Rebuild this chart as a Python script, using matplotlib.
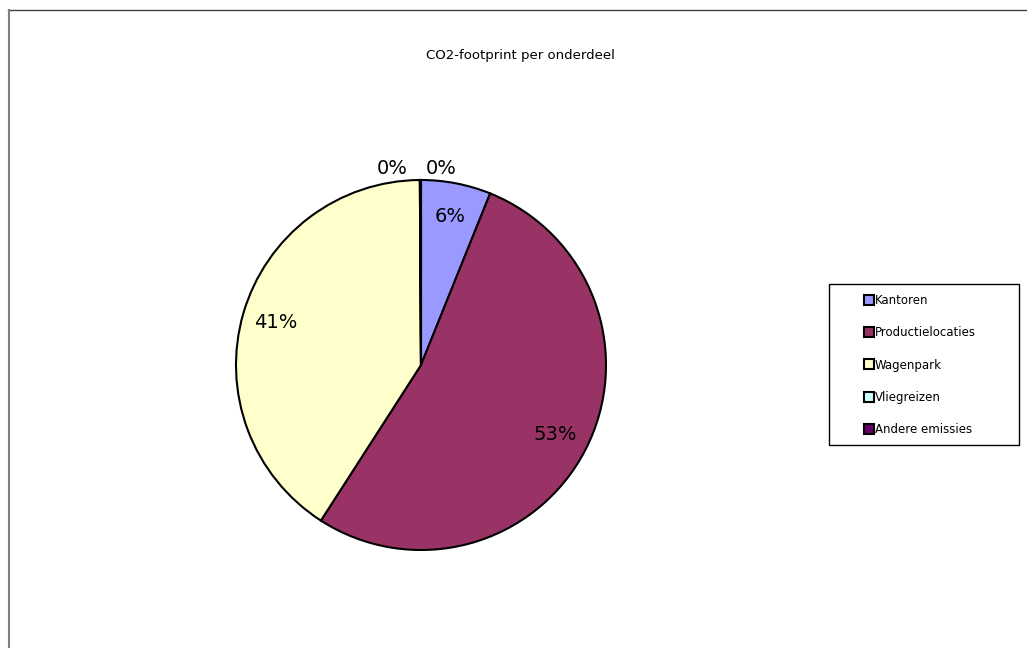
import matplotlib
matplotlib.use("Agg")
import matplotlib.pyplot as plt
from matplotlib.lines import Line2D
from matplotlib.patches import Rectangle

categories = ["Kantoren", "Productielocaties", "Wagenpark", "Vliegreizen", "Andere emissies"]
values = [6.1, 53.0, 40.8, 0.05, 0.05]
colors = ["#9999FF", "#993366", "#FFFFCC", "#CCFFFF", "#660066"]
title = "CO2-footprint per onderdeel"

W, H = 1027, 648
fig = plt.figure(figsize=(W / 100, H / 100), dpi=100)
fig.patch.set_facecolor("white")

# chart frame lines (top and left)
fig.add_artist(Line2D([8 / W, 1026 / W], [1 - 10 / H, 1 - 10 / H], color="#404040", lw=1.0, transform=fig.transFigure))
fig.add_artist(Line2D([8.5 / W, 8.5 / W], [0, 1 - 10 / H], color="#808080", lw=1.5, transform=fig.transFigure))

fig.text(520 / W, 1 - 56 / H, title, ha="center", va="center", fontsize=9.5, family="DejaVu Sans")

cx, cy, r = 421, 365, 185
ax = fig.add_axes([(cx - r) / W, (H - cy - r) / H, 2 * r / W, 2 * r / H])
wedges, texts, autotexts = ax.pie(
    values, colors=colors, startangle=90, counterclock=False,
    autopct=lambda p: f"{p:.0f}%", pctdistance=0.82,
    wedgeprops=dict(edgecolor="black", linewidth=1.5),
    textprops=dict(fontsize=14, family="DejaVu Sans", color="black"),
)
ax.set_xlim(-1, 1)
ax.set_ylim(-1, 1)
ax.set_aspect("equal")
ax.axis("off")
# outside placement of the tiny slice labels
autotexts[3].set_position((-0.155, 1.06))
autotexts[4].set_position((0.11, 1.06))

# legend frame
fig.add_artist(Rectangle((829 / W, 1 - 445 / H), 190 / W, 161 / H, transform=fig.transFigure,
                         facecolor="white", edgecolor="black", linewidth=1.0, zorder=1))

handles = [Line2D([], [], marker="s", linestyle="none", markersize=6.5,
                  markerfacecolor=c, markeredgecolor="black", markeredgewidth=1.5)
           for c in colors]
leg = fig.legend(
    handles, categories, loc="upper left",
    bbox_to_anchor=(862 / W, 1 - 292 / H),
    borderaxespad=0, prop=dict(size=8.5, family="DejaVu Sans"), frameon=False,
    labelspacing=1.62, handlelength=0.8, handletextpad=0.1, borderpad=0.2)
leg.set_zorder(2)

fig.savefig("out.png", dpi=100, facecolor="white")
